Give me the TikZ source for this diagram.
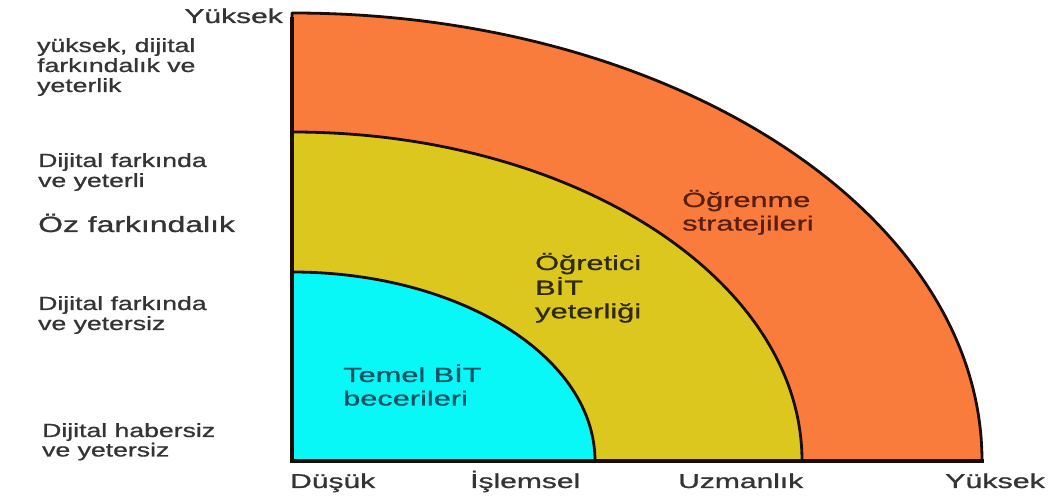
\documentclass[tikz,border=0pt]{standalone}
\usepackage{fontspec}
\setmainfont[FakeBold=0.8]{Liberation Sans}
\usepackage{graphicx}
\definecolor{orng}{RGB}{249,124,60}
\definecolor{ylw}{RGB}{220,199,31}
\definecolor{cyn}{RGB}{8,248,248}
\definecolor{edge}{RGB}{26,12,6}
\definecolor{lbl}{RGB}{52,52,52}
\definecolor{brn}{RGB}{90,30,16}
\definecolor{olv}{RGB}{46,42,8}
\definecolor{tel}{RGB}{14,84,100}
\newcommand{\lbl}[2]{\scalebox{#1}[1]{\begin{tabular}[t]{@{}l@{}}#2\end{tabular}}}
\tikzset{
  region/.style={draw=edge, line width=2.8pt, line join=round},
  axisline/.style={draw=edge, line width=3.6pt, line cap=rect},
  lefttxt/.style={inner sep=0pt, anchor=base west, text=lbl, font=\fontsize{19}{20}\selectfont},
  axtxt/.style={inner sep=0pt, anchor=base west, text=lbl, font=\fontsize{20}{23}\selectfont},
  intxt/.style={inner sep=0pt, anchor=base west, font=\fontsize{20.5}{23.5}\selectfont}
}
\begin{document}
\begin{tikzpicture}[x=1pt,y=1pt]
\useasboundingbox (0,0) rectangle (1054,500);
\fill[white] (0,0) rectangle (1054,500);
\coordinate (O) at (292,39);
% regions
\path[region, fill=orng] (O) -- ++(690,0) arc[start angle=0, end angle=90, x radius=690pt, y radius=448pt] -- cycle;
\path[region, fill=ylw] (O) -- ++(510,0) arc[start angle=0, end angle=90, x radius=510pt, y radius=329pt] -- cycle;
\path[region, fill=cyn] (O) -- ++(303,0) arc[start angle=0, end angle=90, x radius=303pt, y radius=189pt] -- cycle;
\coordinate (ytop) at (292,481);
\coordinate (xend) at (982,39);
\draw[axisline] (ytop) -- (O) -- (xend);
% left labels
\node[axtxt, anchor=base east] (ytopl) at (283,477) {\lbl{1.5}{Yüksek}};
\node[lefttxt] (l1) at (37,448) {\lbl{1.4}{yüksek, dijital\\farkındalık ve\\yeterlik}};
\node[lefttxt] (l2) at (38,333) {\lbl{1.4}{Dijital farkında\\ve yeterli}};
\node[lefttxt, font=\fontsize{22}{24}\selectfont] (l3) at (38,268) {\lbl{1.45}{Öz farkındalık}};
\node[lefttxt] (l4) at (38,190) {\lbl{1.4}{Dijital farkında\\ve yetersiz}};
\node[lefttxt, font=\fontsize{19}{19}\selectfont] (l5) at (42,63) {\lbl{1.4}{Dijital habersiz\\ve yetersiz}};
% bottom labels
\node[axtxt] (b1) at (290,12) {\lbl{1.5}{Düşük}};
\node[axtxt] (b2) at (470,12) {\lbl{1.5}{İşlemsel}};
\node[axtxt] (b3) at (678,12) {\lbl{1.5}{Uzmanlık}};
\node[axtxt] (b4) at (945,12) {\lbl{1.52}{Yüksek}};
% inner labels
\node[intxt, text=brn] (r3) at (682,293) {\lbl{1.5}{Öğrenme\\stratejileri}};
\node[intxt, text=olv] (r2) at (535,230) {\lbl{1.5}{Öğretici\\BİT\\yeterliği}};
\node[intxt, text=tel] (r1) at (343,118) {\lbl{1.5}{Temel BİT\\becerileri}};
\end{tikzpicture}
\end{document}
